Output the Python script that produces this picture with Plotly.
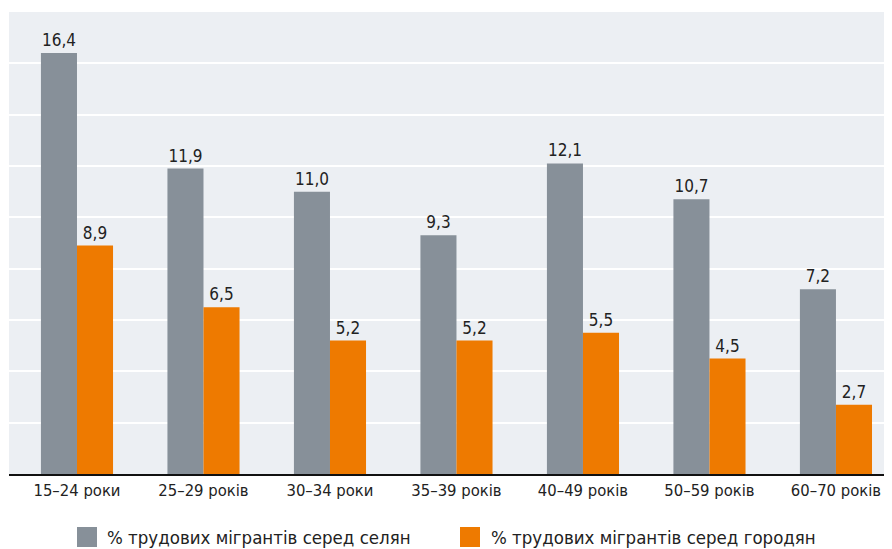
import plotly.graph_objects as go

categories = ["15–24 роки", "25–29 років", "30–34 роки", "35–39 років", "40–49 років", "50–59 років", "60–70 років"]
rural = [16.4, 11.9, 11.0, 9.3, 12.1, 10.7, 7.2]
urban = [8.9, 6.5, 5.2, 5.2, 5.5, 4.5, 2.7]
series_names = ["% трудових мігрантів серед селян", "% трудових мігрантів серед городян"]
colors = ["#879099", "#EE7A00"]

FONT = "DejaVu Sans Condensed, Roboto, sans-serif"

def fmt(v):
    return f"{v:.1f}".replace(".", ",")

fig = go.Figure()
for vals, name, col in zip([rural, urban], series_names, colors):
    fig.add_trace(go.Bar(
        x=categories, y=vals, name=name,
        marker=dict(color=col, line=dict(width=0)),
        text=[fmt(v) for v in vals], textposition="outside",
        textfont=dict(family=FONT, size=17, color="#222222"),
        cliponaxis=False, showlegend=False,
    ))

# page body has an 8px margin, so the figure is 8px smaller and offset
fig.update_layout(
    width=884, height=541,
    margin=dict(l=1, r=0, t=4, b=75),
    paper_bgcolor="white", plot_bgcolor="#ECEFF3",
    barmode="group", bargap=0.43, bargroupgap=0,
    font=dict(family=FONT, size=16, color="#222222"),
    xaxis=dict(showline=True, linecolor="#111111", linewidth=1.5, ticks="",
               range=[-0.5375, 6.443],
               tickfont=dict(size=16.5, color="#222222")),
    yaxis=dict(range=[0, 18], dtick=2, showticklabels=False, gridcolor="white",
               gridwidth=2, zeroline=False),
)

# legend built from shapes + annotations (pixel positions relative to plot area)
PL, PT, PW, PH = 9, 12, 883, 462
def px(x):
    return (x - PL) / PW
def py(y):
    return (PT + PH - y) / PH

leg = [(77, 105), (460, 489)]
for (sx, tx), name, col in zip(leg, series_names, colors):
    fig.add_shape(type="rect", xref="paper", yref="paper",
                  x0=px(sx), x1=px(sx + 20), y0=py(547), y1=py(527),
                  fillcolor=col, line=dict(width=0))
    fig.add_annotation(text=name, xref="paper", yref="paper",
                       x=px(tx), y=py(537),
                       xanchor="left", yanchor="middle", showarrow=False,
                       font=dict(family=FONT, size=18.5, color="#222222"))

fig.write_html("out.html")
